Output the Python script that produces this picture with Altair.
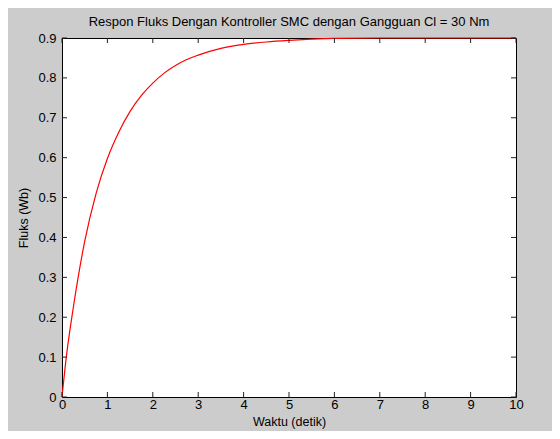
import altair as alt
import pandas as pd

# Curve
t_vals = [0, 0.1, 0.25, 0.5, 0.75, 1.0, 1.25, 1.5, 1.75, 2.0, 2.25, 2.5, 2.75, 3.0, 3.5, 4.0, 4.5, 5.0, 5.5, 6.0, 7.0, 8.0, 9.0, 10.0]
flux_vals = [0, 0.105, 0.225, 0.39, 0.51, 0.598, 0.664, 0.716, 0.756, 0.787, 0.812, 0.831, 0.846, 0.857, 0.874, 0.884, 0.89, 0.894, 0.897, 0.899, 0.9, 0.9, 0.9, 0.9]

x_ticks = [0, 1, 2, 3, 4, 5, 6, 7, 8, 9, 10]
y_ticks = [0, 0.1, 0.2, 0.3, 0.4, 0.5, 0.6, 0.7, 0.8, 0.9]

title_text = "Respon Fluks Dengan Kontroller SMC dengan Gangguan Cl = 30 Nm"
x_title = "Waktu (detik)"
y_title = "Fluks (Wb)"

W, H = 454, 359
FONT = "Liberation Sans"

df = pd.DataFrame({"t": t_vals, "flux": flux_vals})
dx = pd.DataFrame({"t": x_ticks})
dy = pd.DataFrame({"v": y_ticks})

xs = alt.Scale(domain=[0, 10], nice=False)
ys = alt.Scale(domain=[0, 0.9], nice=False)

x_axis = alt.Axis(values=x_ticks, format="d", tickSize=0, domain=False, grid=False,
                  labelPadding=1, titlePadding=4, labelFontSize=13, titleFontSize=12.5,
                  labelFont=FONT, titleFont=FONT, labelColor="#000", titleColor="#000",
                  titleFontWeight="normal", labelFlush=False, labelOverlap=False)
y_axis = alt.Axis(values=y_ticks, format=".1~f", tickSize=0, domain=False, grid=False,
                  labelPadding=6, titlePadding=7, labelFontSize=13, titleFontSize=12.5,
                  labelFont=FONT, titleFont=FONT, labelColor="#000", titleColor="#000",
                  titleFontWeight="normal", labelFlush=False, labelOverlap=False)

line = alt.Chart(df).mark_line(color="#ff0000", strokeWidth=1.2, interpolate="monotone").encode(
    x=alt.X("t:Q", scale=xs, title=x_title, axis=x_axis),
    y=alt.Y("flux:Q", scale=ys, title=y_title, axis=y_axis),
)

tick_col = "#222222"
bx = alt.Chart(dx).mark_rule(color=tick_col, strokeWidth=1).encode(
    x=alt.X("t:Q", scale=xs, title=x_title, axis=x_axis), y=alt.value(H), y2=alt.value(H - 5))
tx = alt.Chart(dx).mark_rule(color=tick_col, strokeWidth=1).encode(
    x=alt.X("t:Q", scale=xs, title=x_title, axis=x_axis), y=alt.value(0), y2=alt.value(5))
ly = alt.Chart(dy).mark_rule(color=tick_col, strokeWidth=1).encode(
    y=alt.Y("v:Q", scale=ys, title=y_title, axis=y_axis), x=alt.value(0), x2=alt.value(5))
ry = alt.Chart(dy).mark_rule(color=tick_col, strokeWidth=1).encode(
    y=alt.Y("v:Q", scale=ys, title=y_title, axis=y_axis), x=alt.value(W), x2=alt.value(W - 5))

chart = alt.layer(line, bx, tx, ly, ry).properties(
    width=W, height=H,
    title=alt.Title(title_text, font=FONT, fontSize=13, fontWeight="normal", color="#000", offset=3),
    background="#cccccc",
    padding={"left": 54, "top": 30, "right": 36, "bottom": 34},
    autosize=alt.AutoSizeParams(type="none"),
).configure_view(fill="white", stroke="#000000", strokeWidth=1)

chart.save("out.html", embed_options={"renderer": "svg", "actions": False})
